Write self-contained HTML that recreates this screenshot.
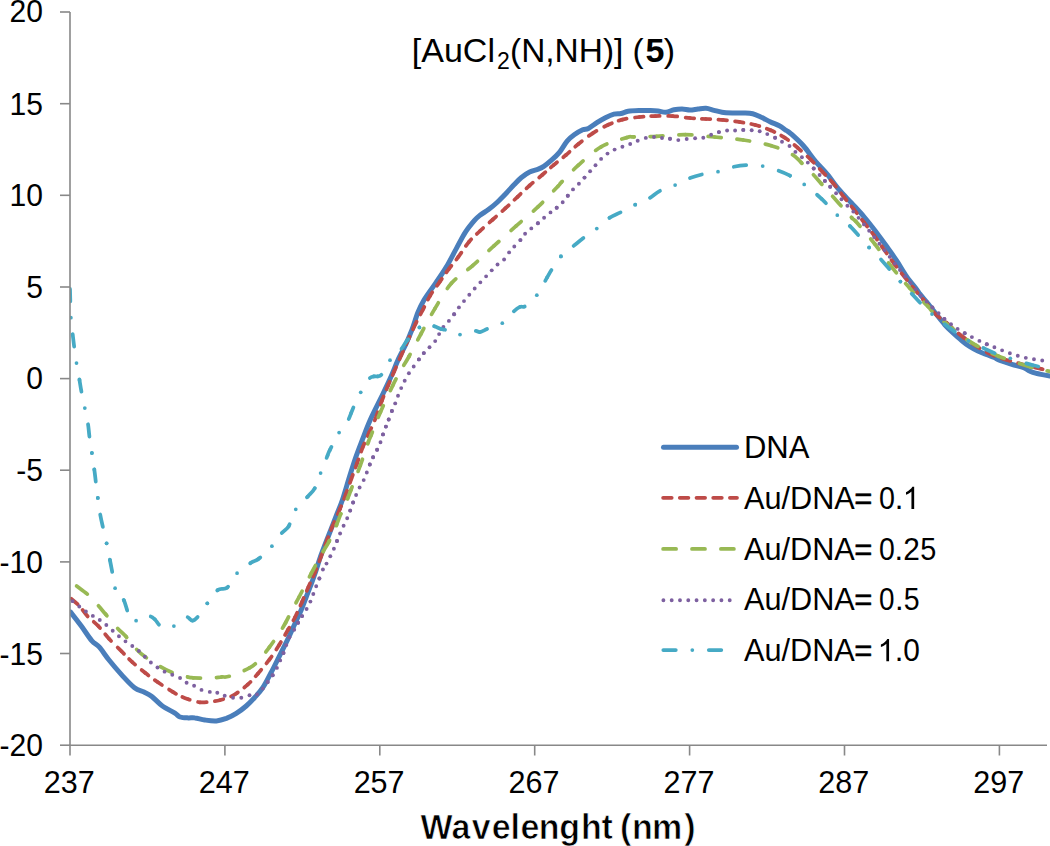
<!DOCTYPE html>
<html><head><meta charset="utf-8"><style>
html,body{margin:0;padding:0;background:#fff;width:1050px;height:846px;overflow:hidden}
svg{display:block;font-family:"Liberation Sans",sans-serif}
</style></head><body>
<svg width="1050" height="846" viewBox="0 0 1050 846">
<defs><clipPath id="pc"><rect x="70" y="0" width="980" height="745"/></clipPath></defs>
<g clip-path="url(#pc)" fill="none" stroke-linejoin="round" stroke-linecap="round"><path d="M70.6 612.1 C72.4 614.4 77.8 621.2 81.3 626.0 C84.8 630.8 88.9 637.4 91.9 640.9 C94.9 644.4 96.6 644.0 99.4 647.2 C102.2 650.4 105.3 655.4 109.0 660.0 C112.7 664.6 117.5 670.3 121.7 674.9 C126.0 679.5 130.8 684.9 134.5 687.7 C138.2 690.6 141.2 690.6 144.0 692.0 C146.8 693.4 148.5 693.9 151.5 696.2 C154.5 698.5 158.2 702.9 162.1 705.7 C166.0 708.5 171.9 711.3 174.9 713.2 C177.9 715.1 177.8 716.2 180.0 717.0 C182.2 717.8 185.8 717.8 188.3 717.9 C190.8 718.0 192.2 717.5 194.9 717.9 C197.7 718.2 201.2 719.5 204.8 720.0 C208.4 720.5 212.8 721.2 216.4 720.9 C220.0 720.6 223.1 719.6 226.4 718.4 C229.7 717.1 233.0 715.5 236.3 713.4 C239.6 711.3 243.2 708.6 246.2 706.0 C249.2 703.4 251.7 700.8 254.5 697.7 C257.3 694.7 260.1 691.9 262.8 687.7 C265.6 683.6 268.2 678.0 271.0 672.8 C273.8 667.6 276.5 661.8 279.3 656.3 C282.1 650.8 284.8 645.5 287.6 639.7 C290.4 633.9 293.6 626.5 295.9 621.5 C298.2 616.5 299.6 613.8 301.3 609.7 C303.0 605.6 304.6 601.2 306.2 597.0 C307.8 592.8 309.5 588.7 311.2 584.2 C312.9 579.7 314.7 574.4 316.2 570.0 C317.7 565.6 318.5 562.2 320.0 558.0 C321.5 553.8 323.2 549.4 325.0 544.7 C326.8 540.0 328.9 534.8 330.8 529.8 C332.7 524.8 334.7 519.9 336.6 514.9 C338.5 509.9 340.2 506.4 342.4 500.0 C344.5 493.6 347.3 483.8 349.5 476.8 C351.7 469.8 353.4 464.1 355.6 457.8 C357.8 451.5 360.3 445.2 362.7 438.9 C365.1 432.6 367.1 427.0 370.2 420.0 C373.3 413.0 378.1 403.8 381.5 396.8 C384.9 389.8 387.7 384.1 390.5 377.8 C393.3 371.5 396.0 364.4 398.5 358.9 C401.0 353.4 403.2 349.9 405.5 345.0 C407.8 340.1 409.9 335.1 412.0 329.7 C414.1 324.3 415.9 317.4 417.9 312.5 C419.9 307.6 421.1 304.9 424.0 300.0 C426.9 295.1 431.8 288.7 435.5 283.3 C439.2 277.9 442.6 273.3 446.1 267.4 C449.6 261.5 453.4 253.8 456.7 247.9 C459.9 242.0 462.6 236.5 465.6 231.9 C468.6 227.3 472.1 223.2 474.5 220.4 C476.9 217.6 477.7 217.0 480.0 215.2 C482.3 213.4 485.7 211.7 488.5 209.6 C491.3 207.5 494.2 205.1 497.0 202.5 C499.8 199.9 502.7 196.9 505.5 194.0 C508.3 191.1 511.4 187.5 514.0 184.8 C516.6 182.1 518.5 179.8 521.1 177.7 C523.7 175.6 526.8 173.4 529.6 172.0 C532.5 170.6 535.8 170.0 538.2 169.1 C540.6 168.2 541.7 167.7 543.8 166.3 C545.9 164.9 548.3 162.9 550.9 160.6 C553.5 158.3 556.7 155.6 559.4 152.3 C562.1 149.1 564.6 144.0 567.1 141.1 C569.6 138.2 571.6 136.7 574.2 134.8 C576.8 132.9 580.3 130.9 582.7 129.8 C585.1 128.7 586.0 129.6 588.4 128.4 C590.8 127.2 594.1 124.5 596.9 122.7 C599.7 120.9 602.6 119.1 605.4 117.7 C608.2 116.3 611.3 114.9 613.9 114.2 C616.5 113.5 618.6 114.0 621.0 113.5 C623.4 113.0 625.0 111.8 628.1 111.3 C631.2 110.8 635.7 110.7 639.4 110.6 C643.1 110.5 647.3 110.4 650.4 110.5 C653.5 110.6 655.4 110.7 658.0 111.0 C660.6 111.3 663.3 112.5 666.0 112.3 C668.7 112.1 671.3 110.2 674.0 109.7 C676.7 109.2 679.3 109.0 682.0 109.0 C684.7 109.0 687.3 110.0 690.0 110.0 C692.7 110.0 695.3 109.3 698.0 109.0 C700.7 108.7 703.3 108.1 706.0 108.3 C708.7 108.5 711.3 109.6 714.0 110.3 C716.7 111.0 718.9 111.8 722.0 112.3 C725.1 112.8 729.2 112.9 732.7 113.0 C736.2 113.1 740.0 112.9 743.3 113.0 C746.6 113.1 749.8 113.0 752.7 113.7 C755.6 114.4 757.8 115.7 760.7 117.0 C763.6 118.3 766.9 120.2 770.0 121.7 C773.1 123.2 776.6 124.3 779.3 125.7 C782.0 127.1 784.0 129.0 786.0 130.3 C788.0 131.7 788.1 131.2 791.0 133.8 C793.9 136.4 799.5 141.4 803.6 146.0 C807.7 150.6 811.5 156.7 815.5 161.4 C819.5 166.1 823.4 169.7 827.3 174.4 C831.2 179.1 835.1 184.9 839.1 189.7 C843.1 194.5 847.3 198.4 851.5 203.0 C855.7 207.6 860.2 212.3 864.2 217.0 C868.2 221.7 871.7 226.2 875.5 231.2 C879.3 236.2 883.4 241.8 886.9 246.8 C890.4 251.8 893.5 256.0 896.8 261.0 C900.1 266.0 903.4 271.9 906.7 276.6 C910.0 281.3 914.5 286.5 916.7 289.4 C918.9 292.3 918.1 291.7 920.0 294.1 C921.9 296.6 925.5 300.7 928.3 304.1 C931.0 307.5 933.8 311.1 936.5 314.5 C939.2 317.9 942.0 321.6 944.8 324.7 C947.6 327.8 950.3 330.4 953.1 333.0 C955.9 335.6 958.6 338.1 961.4 340.3 C964.1 342.6 966.9 344.7 969.6 346.5 C972.4 348.3 975.1 349.7 977.9 351.0 C980.7 352.3 983.5 353.4 986.2 354.5 C989.0 355.6 992.1 356.5 994.4 357.5 C996.7 358.5 997.1 359.4 1000.0 360.5 C1002.9 361.6 1007.8 363.2 1011.8 364.4 C1015.8 365.6 1020.7 366.5 1023.7 367.6 C1026.7 368.7 1027.6 370.1 1029.6 371.0 C1031.6 371.9 1032.1 372.3 1035.5 373.2 C1038.9 374.1 1047.6 375.6 1050.0 376.1" stroke="#4a7ebb" stroke-width="5"/><g stroke="#be4b48" stroke-width="3.75"><path d="M70.6 598.3 C72.0 599.5 76.2 602.7 79.1 605.7" stroke-dasharray="8.21 7.73" stroke-dashoffset="15.07"/><path d="M79.1 605.7 C81.9 608.7 84.5 613.0 87.7 616.4" stroke-dasharray="8.19 7.72" stroke-dashoffset="10.39"/><path d="M87.7 616.4 C90.9 619.8 94.8 622.3 98.3 626.0" stroke-dasharray="8.84 8.32" stroke-dashoffset="8.86"/><path d="M98.3 626.0 C101.8 629.7 105.1 634.5 109.0 638.7" stroke-dasharray="8.57 8.07" stroke-dashoffset="5.83"/><path d="M109.0 638.7 C112.9 643.0 117.8 647.6 121.7 651.5" stroke-dasharray="9.64 9.08" stroke-dashoffset="6.53"/><path d="M121.7 651.5 C125.6 655.4 128.4 658.6 132.3 662.1" stroke-dasharray="7.91 7.45" stroke-dashoffset="4.79"/><path d="M132.3 662.1 C136.2 665.6 140.8 669.4 145.1 672.8" stroke-dasharray="8.86 8.35" stroke-dashoffset="4.96"/><path d="M145.1 672.8 C149.4 676.2 153.3 679.1 157.9 682.3" stroke-dasharray="8.50 8.01" stroke-dashoffset="4.25"/><path d="M157.9 682.3 C162.5 685.5 169.1 689.6 172.8 691.9" stroke-dasharray="8.83 8.31" stroke-dashoffset="3.82"/><path d="M172.8 691.9 C176.5 694.2 177.4 694.8 180.0 696.0" stroke-dasharray="7.45 7.01" stroke-dashoffset="3.72"/><path d="M180.0 696.0 C182.6 697.2 185.0 698.2 188.3 699.3" stroke-dasharray="7.83 7.38" stroke-dashoffset="12.64"/><path d="M188.3 699.3 C191.6 700.3 196.3 701.9 199.9 702.3" stroke-dasharray="8.86 8.34" stroke-dashoffset="7.20"/><path d="M199.9 702.3 C203.5 702.7 206.5 702.1 209.8 701.8" stroke-dasharray="8.79 8.28" stroke-dashoffset="1.98"/><path d="M209.8 701.8 C213.1 701.4 216.4 701.0 219.7 700.2" stroke-dasharray="8.76 8.25" stroke-dashoffset="11.88"/><path d="M219.7 700.2 C223.0 699.4 226.9 698.0 229.7 696.9" stroke-dasharray="8.55 8.05" stroke-dashoffset="4.79"/><path d="M229.7 696.9 C232.5 695.8 233.3 695.6 236.3 693.5" stroke-dasharray="8.46 7.96" stroke-dashoffset="15.16"/><path d="M236.3 693.5 C239.3 691.4 244.3 687.7 247.9 684.4" stroke-dasharray="8.21 7.73" stroke-dashoffset="6.01"/><path d="M247.9 684.4 C251.5 681.1 254.2 677.8 257.8 673.7" stroke-dasharray="8.46 7.97" stroke-dashoffset="4.97"/><path d="M257.8 673.7 C261.4 669.6 265.8 664.4 269.4 659.6" stroke-dasharray="8.53 8.03" stroke-dashoffset="3.15"/><path d="M269.4 659.6 C273.0 654.8 276.2 649.7 279.3 644.7" stroke-dasharray="8.88 8.37" stroke-dashoffset="5.04"/><path d="M279.3 644.7 C282.4 639.7 285.4 634.3 288.0 629.8" stroke-dasharray="8.47 7.97" stroke-dashoffset="5.42"/><path d="M288.0 629.8 C290.6 625.3 292.6 622.1 294.9 617.5" stroke-dasharray="9.05 8.52" stroke-dashoffset="6.66"/><path d="M294.9 617.5 C297.2 612.9 299.8 607.0 302.0 601.9" stroke-dasharray="8.21 7.73" stroke-dashoffset="2.90"/><path d="M302.0 601.9 C304.2 596.8 306.3 591.9 308.4 587.0" stroke-dasharray="8.35 7.87" stroke-dashoffset="4.18"/><path d="M308.4 587.0 C310.5 582.1 312.7 577.9 314.8 572.8" stroke-dasharray="8.02 7.56" stroke-dashoffset="4.01"/><path d="M314.8 572.8 C316.9 567.7 319.1 561.9 321.2 556.3" stroke-dasharray="8.65 8.15" stroke-dashoffset="4.33"/><path d="M321.2 556.3 C323.3 550.6 325.6 543.9 327.5 538.9" stroke-dasharray="8.65 8.15" stroke-dashoffset="5.22"/><path d="M327.5 538.9 C329.4 533.9 330.3 531.5 332.4 526.5" stroke-dasharray="8.65 8.15" stroke-dashoffset="6.93"/><path d="M332.4 526.5 C334.5 521.5 337.7 514.4 339.9 509.1" stroke-dasharray="8.65 8.15" stroke-dashoffset="3.46"/><path d="M339.9 509.1 C342.1 503.8 343.8 499.8 345.7 494.7" stroke-dasharray="8.65 8.15" stroke-dashoffset="5.60"/><path d="M345.7 494.7 C347.6 489.6 349.5 483.9 351.4 478.7" stroke-dasharray="8.75 8.24" stroke-dashoffset="4.37"/><path d="M351.4 478.7 C353.3 473.5 355.1 468.7 357.0 463.5" stroke-dasharray="8.34 7.86" stroke-dashoffset="4.17"/><path d="M357.0 463.5 C358.9 458.3 360.6 452.6 362.7 447.4" stroke-dasharray="8.80 8.28" stroke-dashoffset="4.40"/><path d="M362.7 447.4 C364.8 442.2 367.3 436.7 369.3 432.3" stroke-dasharray="8.49 7.99" stroke-dashoffset="4.24"/><path d="M369.3 432.3 C371.3 427.9 372.4 426.3 374.5 421.0" stroke-dasharray="9.13 8.60" stroke-dashoffset="4.57"/><path d="M374.5 421.0 C376.6 415.7 379.7 406.4 382.0 400.5" stroke-dasharray="8.66 8.16" stroke-dashoffset="16.13"/><path d="M382.0 400.5 C384.3 394.6 386.1 390.3 388.1 385.4" stroke-dasharray="8.39 7.90" stroke-dashoffset="4.19"/><path d="M388.1 385.4 C390.2 380.5 392.1 376.2 394.3 371.2" stroke-dasharray="7.98 7.52" stroke-dashoffset="3.99"/><path d="M394.3 371.2 C396.5 366.1 399.0 360.5 401.4 355.1" stroke-dasharray="9.06 8.53" stroke-dashoffset="4.53"/><path d="M401.4 355.1 C403.8 349.7 406.1 344.2 408.5 339.0" stroke-dasharray="8.20 7.73" stroke-dashoffset="4.10"/><path d="M408.5 339.0 C410.9 333.8 413.2 328.8 415.5 324.0" stroke-dasharray="8.49 7.99" stroke-dashoffset="5.97"/><path d="M415.5 324.0 C417.8 319.2 420.1 315.2 422.5 310.5" stroke-dasharray="8.79 8.28" stroke-dashoffset="6.26"/><path d="M422.5 310.5 C424.9 305.8 427.2 300.5 430.1 295.7" stroke-dasharray="8.46 7.97" stroke-dashoffset="4.23"/><path d="M430.1 295.7 C433.0 290.9 436.8 286.0 439.9 281.6" stroke-dasharray="8.46 7.97" stroke-dashoffset="4.44"/><path d="M439.9 281.6 C443.0 277.2 445.7 273.2 448.8 269.1" stroke-dasharray="8.46 7.97" stroke-dashoffset="5.19"/><path d="M448.8 269.1 C451.9 265.0 455.1 261.3 458.5 256.7" stroke-dasharray="8.46 7.97" stroke-dashoffset="4.11"/><path d="M458.5 256.7 C461.9 252.1 465.5 246.0 469.1 241.7" stroke-dasharray="8.46 7.97" stroke-dashoffset="3.43"/><path d="M469.1 241.7 C472.7 237.4 476.1 234.7 480.0 231.0" stroke-dasharray="8.46 7.97" stroke-dashoffset="5.37"/><path d="M480.0 231.0 C483.9 227.3 488.6 223.3 492.8 219.5" stroke-dasharray="8.86 8.35" stroke-dashoffset="4.43"/><path d="M492.8 219.5 C497.1 215.7 501.4 212.0 505.5 208.2" stroke-dasharray="8.75 8.25" stroke-dashoffset="4.38"/><path d="M505.5 208.2 C509.6 204.4 513.6 200.6 517.6 196.8" stroke-dasharray="8.56 8.06" stroke-dashoffset="4.28"/><path d="M517.6 196.8 C521.6 193.0 525.5 189.2 529.6 185.5" stroke-dasharray="8.49 8.00" stroke-dashoffset="4.24"/><path d="M529.6 185.5 C533.7 181.8 538.4 178.2 542.4 174.8" stroke-dasharray="8.59 8.09" stroke-dashoffset="4.30"/><path d="M542.4 174.8 C546.4 171.4 549.9 168.2 553.8 164.9" stroke-dasharray="7.78 7.32" stroke-dashoffset="3.89"/><path d="M553.8 164.9 C557.7 161.6 561.9 158.5 566.0 155.0" stroke-dasharray="8.51 8.01" stroke-dashoffset="4.25"/><path d="M566.0 155.0 C570.1 151.5 574.0 147.6 578.4 144.0" stroke-dasharray="8.14 7.67" stroke-dashoffset="3.30"/><path d="M578.4 144.0 C582.8 140.4 587.6 136.5 592.6 133.3" stroke-dasharray="9.16 8.63" stroke-dashoffset="4.58"/><path d="M592.6 133.3 C597.6 130.1 603.2 127.1 608.2 124.8" stroke-dasharray="9.16 8.62" stroke-dashoffset="4.58"/><path d="M608.2 124.8 C613.2 122.5 617.2 120.9 622.4 119.6" stroke-dasharray="7.80 7.35" stroke-dashoffset="3.90"/><path d="M622.4 119.6 C627.6 118.3 633.9 117.6 639.4 117.0" stroke-dasharray="8.86 8.35" stroke-dashoffset="4.43"/><path d="M639.4 117.0 C644.9 116.4 649.8 116.2 655.3 116.1" stroke-dasharray="8.20 7.73" stroke-dashoffset="4.10"/><path d="M655.3 116.1 C660.8 115.9 666.9 115.8 672.7 116.1" stroke-dasharray="8.96 8.44" stroke-dashoffset="4.48"/><path d="M672.7 116.1 C678.5 116.4 684.5 117.5 690.0 118.0" stroke-dasharray="8.96 8.44" stroke-dashoffset="4.48"/><path d="M690.0 118.0 C695.5 118.5 700.5 118.7 706.0 119.0" stroke-dasharray="8.26 7.78" stroke-dashoffset="4.13"/><path d="M706.0 119.0 C711.5 119.3 717.2 119.4 722.7 119.9" stroke-dasharray="8.61 8.11" stroke-dashoffset="4.31"/><path d="M722.7 119.9 C728.2 120.4 733.9 121.1 739.3 121.9" stroke-dasharray="8.61 8.11" stroke-dashoffset="4.31"/><path d="M739.3 121.9 C744.7 122.8 750.1 123.6 755.3 125.0" stroke-dasharray="8.40 7.91" stroke-dashoffset="4.20"/><path d="M755.3 125.0 C760.5 126.4 765.8 128.2 770.7 130.3" stroke-dasharray="8.39 7.91" stroke-dashoffset="4.20"/><path d="M770.7 130.3 C775.6 132.4 780.2 134.8 784.7 137.7" stroke-dasharray="8.16 7.69" stroke-dashoffset="4.08"/><path d="M784.7 137.7 C789.2 140.6 793.4 144.2 797.7 147.8" stroke-dasharray="8.48 7.99" stroke-dashoffset="4.24"/><path d="M797.7 147.8 C802.0 151.5 806.6 155.6 810.7 159.6" stroke-dasharray="9.04 8.52" stroke-dashoffset="4.52"/><path d="M810.7 159.6 C814.9 163.6 818.9 168.1 822.6 172.0" stroke-dasharray="8.85 8.34" stroke-dashoffset="4.43"/><path d="M822.6 172.0 C826.4 175.9 829.7 179.1 833.2 183.2" stroke-dasharray="7.94 7.48" stroke-dashoffset="3.97"/><path d="M833.2 183.2 C836.7 187.3 840.4 192.5 843.8 196.8" stroke-dasharray="8.88 8.36" stroke-dashoffset="4.44"/><path d="M843.8 196.8 C847.2 201.1 850.1 204.7 853.5 209.0" stroke-dasharray="8.60 8.10" stroke-dashoffset="4.30"/><path d="M853.5 209.0 C856.9 213.3 860.8 218.3 864.2 222.7" stroke-dasharray="8.60 8.10" stroke-dashoffset="3.19"/><path d="M864.2 222.7 C867.6 227.1 869.1 228.7 874.1 235.5" stroke-dasharray="8.60 8.10" stroke-dashoffset="3.87"/><path d="M874.1 235.5 C879.1 242.3 887.4 254.7 894.0 263.5" stroke-dasharray="8.60 8.10" stroke-dashoffset="3.36"/><path d="M894.0 263.5 C900.6 272.3 909.0 282.6 913.8 288.5" stroke-dasharray="8.60 8.10" stroke-dashoffset="4.31"/><path d="M913.8 288.5 C918.6 294.4 919.2 294.8 923.0 299.2" stroke-dasharray="8.60 8.10" stroke-dashoffset="2.80"/><path d="M923.0 299.2 C926.8 303.6 932.6 311.1 936.5 315.0" stroke-dasharray="8.60 8.10" stroke-dashoffset="0.22"/><path d="M936.5 315.0 C940.4 318.9 942.0 318.9 946.5 322.7" stroke-dasharray="8.60 8.10" stroke-dashoffset="4.30"/><path d="M946.5 322.7 C951.0 326.5 956.5 332.4 963.8 337.6" stroke-dasharray="8.60 8.10" stroke-dashoffset="0.25"/><path d="M963.8 337.6 C971.1 342.8 981.0 349.8 990.4 354.1" stroke-dasharray="8.60 8.10" stroke-dashoffset="6.39"/><path d="M990.4 354.1 C999.8 358.5 1011.7 361.2 1020.2 363.7" stroke-dasharray="8.60 8.10" stroke-dashoffset="4.34"/><path d="M1020.2 363.7 C1028.7 366.2 1036.5 367.7 1041.5 369.0" stroke-dasharray="8.60 8.10" stroke-dashoffset="2.28"/><path d="M1041.5 369.0 C1046.5 370.3 1048.6 370.9 1050.0 371.3" stroke-dasharray="8.60 8.10" stroke-dashoffset="7.54"/></g><g stroke="#98b954" stroke-width="3.75"><path d="M76.2 585.6 C78.2 587.2 84.8 591.8 88.5 595.1" stroke-dasharray="13.18 16.12" stroke-dashoffset="28.60"/><path d="M88.5 595.1 C92.2 598.5 95.4 602.5 98.3 605.7" stroke-dasharray="13.33 16.30" stroke-dashoffset="15.04"/><path d="M98.3 605.7 C101.2 608.9 102.5 610.6 105.7 614.3" stroke-dasharray="13.34 16.31" stroke-dashoffset="29.49"/><path d="M105.7 614.3 C108.9 618.0 114.0 624.4 117.4 628.1" stroke-dasharray="13.34 16.32" stroke-dashoffset="11.20"/><path d="M117.4 628.1 C120.8 631.8 122.8 633.1 126.0 636.6" stroke-dasharray="13.04 15.94" stroke-dashoffset="28.62"/><path d="M126.0 636.6 C129.2 640.1 133.4 646.0 136.6 649.4" stroke-dasharray="12.63 15.45" stroke-dashoffset="11.37"/><path d="M136.6 649.4 C139.8 652.8 141.2 654.0 145.1 656.8" stroke-dasharray="12.94 15.82" stroke-dashoffset="28.67"/><path d="M145.1 656.8 C149.0 659.6 155.4 663.7 160.0 666.4" stroke-dasharray="13.36 16.34" stroke-dashoffset="11.57"/><path d="M160.0 666.4 C164.6 669.1 168.2 671.0 172.8 672.8" stroke-dasharray="13.23 16.18" stroke-dashoffset="29.01"/><path d="M172.8 672.8 C177.4 674.6 184.3 676.2 187.7 677.0" stroke-dasharray="13.10 16.02" stroke-dashoffset="13.79"/><path d="M187.7 677.0 C191.1 677.8 189.5 677.6 193.2 677.8" stroke-dasharray="13.10 16.02" stroke-dashoffset="0.16"/><path d="M193.2 677.8 C196.9 678.0 205.3 678.1 210.0 678.0" stroke-dasharray="13.05 15.96" stroke-dashoffset="5.72"/><path d="M210.0 678.0 C214.7 677.9 218.1 677.3 221.4 677.0" stroke-dasharray="13.05 15.96" stroke-dashoffset="22.52"/><path d="M221.4 677.0 C224.7 676.7 225.0 677.7 229.7 676.2" stroke-dasharray="13.01 15.91" stroke-dashoffset="4.95"/><path d="M229.7 676.2 C234.4 674.7 244.5 670.7 249.5 667.9" stroke-dasharray="13.00 15.90" stroke-dashoffset="13.35"/><path d="M249.5 667.9 C254.5 665.1 256.2 663.0 259.5 659.6" stroke-dasharray="13.02 15.92" stroke-dashoffset="5.95"/><path d="M259.5 659.6 C262.8 656.2 266.1 651.6 269.4 647.2" stroke-dasharray="13.02 15.92" stroke-dashoffset="19.02"/><path d="M269.4 647.2 C272.7 642.8 276.6 637.2 279.3 633.1" stroke-dasharray="13.07 15.99" stroke-dashoffset="5.98"/><path d="M279.3 633.1 C282.0 629.0 283.6 626.4 285.7 622.5" stroke-dasharray="13.07 15.99" stroke-dashoffset="23.21"/><path d="M285.7 622.5 C287.8 618.6 289.8 614.2 292.0 610.0" stroke-dasharray="12.96 15.85" stroke-dashoffset="6.48"/><path d="M292.0 610.0 C294.2 605.8 295.9 603.1 299.1 597.0" stroke-dasharray="12.96 15.85" stroke-dashoffset="20.48"/><path d="M299.1 597.0 C302.3 590.9 307.2 581.1 311.2 573.5" stroke-dasharray="13.02 15.93" stroke-dashoffset="6.51"/><path d="M311.2 573.5 C315.2 565.9 320.3 556.6 323.3 551.3" stroke-dasharray="13.02 15.93" stroke-dashoffset="3.99"/><path d="M323.3 551.3 C326.3 545.9 326.9 545.8 329.1 541.4" stroke-dasharray="13.03 15.94" stroke-dashoffset="0.33"/><path d="M329.1 541.4 C331.3 537.0 334.7 529.3 336.6 524.8" stroke-dasharray="13.04 15.94" stroke-dashoffset="11.81"/><path d="M336.6 524.8 C338.5 520.2 338.9 518.5 340.7 514.1" stroke-dasharray="13.09 16.01" stroke-dashoffset="1.05"/><path d="M340.7 514.1 C342.5 509.7 345.9 502.5 347.6 498.5" stroke-dasharray="13.13 16.06" stroke-dashoffset="12.56"/><path d="M347.6 498.5 C349.3 494.5 348.8 495.5 350.9 490.0" stroke-dasharray="13.15 16.08" stroke-dashoffset="0.42"/><path d="M350.9 490.0 C353.0 484.5 357.4 473.4 360.3 465.4" stroke-dasharray="13.18 16.13" stroke-dashoffset="9.57"/><path d="M360.3 465.4 C363.2 457.4 366.6 446.9 368.4 441.8" stroke-dasharray="13.14 16.07" stroke-dashoffset="6.57"/><path d="M368.4 441.8 C370.2 436.8 369.2 440.1 371.2 435.1" stroke-dasharray="13.00 15.90" stroke-dashoffset="2.28"/><path d="M371.2 435.1 C373.2 430.1 376.9 420.2 380.5 411.9" stroke-dasharray="12.80 15.66" stroke-dashoffset="9.41"/><path d="M380.5 411.9 C384.1 403.6 389.4 392.4 392.8 385.4" stroke-dasharray="13.27 16.24" stroke-dashoffset="6.17"/><path d="M392.8 385.4 C396.2 378.4 398.3 374.8 401.0 370.0" stroke-dasharray="12.78 15.63" stroke-dashoffset="5.65"/><path d="M401.0 370.0 C403.7 365.2 405.7 362.5 409.0 356.5" stroke-dasharray="12.88 15.76" stroke-dashoffset="23.29"/><path d="M409.0 356.5 C412.3 350.5 416.6 342.0 420.9 334.0" stroke-dasharray="13.26 16.21" stroke-dashoffset="10.64"/><path d="M420.9 334.0 C425.2 326.0 429.8 317.1 434.9 308.6" stroke-dasharray="13.05 15.96" stroke-dashoffset="6.52"/><path d="M434.9 308.6 C440.0 300.2 445.1 290.5 451.4 283.3" stroke-dasharray="13.61 16.64" stroke-dashoffset="6.80"/><path d="M451.4 283.3 C457.7 276.1 465.6 271.9 472.7 265.6" stroke-dasharray="12.48 15.26" stroke-dashoffset="6.24"/><path d="M472.7 265.6 C479.8 259.3 486.9 252.3 494.2 245.7" stroke-dasharray="12.97 15.86" stroke-dashoffset="6.48"/><path d="M494.2 245.7 C501.4 239.1 508.9 232.4 516.2 225.9" stroke-dasharray="13.53 16.55" stroke-dashoffset="7.26"/><path d="M516.2 225.9 C523.5 219.4 531.2 213.3 538.2 206.7" stroke-dasharray="13.14 16.07" stroke-dashoffset="6.57"/><path d="M538.2 206.7 C545.2 200.1 554.1 190.3 558.0 186.2" stroke-dasharray="12.82 15.68" stroke-dashoffset="6.41"/><path d="M558.0 186.2 C561.9 182.1 558.0 185.8 561.4 182.3" stroke-dasharray="13.21 16.16" stroke-dashoffset="6.61"/><path d="M561.4 182.3 C564.8 178.8 571.8 171.1 578.4 165.2" stroke-dasharray="13.21 16.16" stroke-dashoffset="11.85"/><path d="M578.4 165.2 C585.0 159.3 593.0 151.4 601.1 146.8" stroke-dasharray="13.17 16.11" stroke-dashoffset="6.59"/><path d="M601.1 146.8 C609.2 142.2 621.2 139.2 626.7 137.6" stroke-dasharray="12.82 15.68" stroke-dashoffset="6.41"/><path d="M626.7 137.6 C632.2 135.9 628.8 137.1 633.8 136.9" stroke-dasharray="12.97 15.86" stroke-dashoffset="5.23"/><path d="M633.8 136.9 C638.8 136.7 648.1 136.7 656.7 136.3" stroke-dasharray="13.00 15.90" stroke-dashoffset="12.50"/><path d="M656.7 136.3 C665.3 135.9 675.6 134.6 685.3 134.7" stroke-dasharray="12.89 15.76" stroke-dashoffset="6.44"/><path d="M685.3 134.7 C695.0 134.8 705.0 136.1 714.7 137.0" stroke-dasharray="13.27 16.23" stroke-dashoffset="6.64"/><path d="M714.7 137.0 C724.4 137.9 733.9 138.6 743.3 140.0" stroke-dasharray="12.94 15.82" stroke-dashoffset="6.47"/><path d="M743.3 140.0 C752.7 141.4 763.2 143.3 771.3 145.7" stroke-dasharray="12.86 15.73" stroke-dashoffset="6.43"/><path d="M771.3 145.7 C779.4 148.1 786.8 151.5 791.8 154.3" stroke-dasharray="13.33 16.31" stroke-dashoffset="6.67"/><path d="M791.8 154.3 C796.8 157.1 797.8 159.2 801.3 162.6" stroke-dasharray="13.19 16.13" stroke-dashoffset="28.64"/><path d="M801.3 162.6 C804.8 165.9 809.8 170.9 813.1 174.4" stroke-dasharray="13.00 15.90" stroke-dashoffset="11.82"/><path d="M813.1 174.4 C816.5 177.9 818.2 180.2 821.4 183.8" stroke-dasharray="13.01 15.91" stroke-dashoffset="28.52"/><path d="M821.4 183.8 C824.5 187.4 828.6 191.9 832.0 195.7" stroke-dasharray="13.02 15.92" stroke-dashoffset="12.15"/><path d="M832.0 195.7 C835.4 199.4 838.1 202.6 841.5 206.3" stroke-dasharray="12.74 15.59" stroke-dashoffset="27.50"/><path d="M841.5 206.3 C844.9 210.0 849.7 215.6 852.1 218.1" stroke-dasharray="12.46 15.24" stroke-dashoffset="13.11"/><path d="M852.1 218.1 C854.5 220.6 851.9 217.0 855.7 221.3" stroke-dasharray="12.46 15.24" stroke-dashoffset="1.27"/><path d="M855.7 221.3 C859.5 225.6 868.6 236.2 874.8 244.0" stroke-dasharray="13.35 16.32" stroke-dashoffset="6.67"/><path d="M874.8 244.0 C880.9 251.8 886.8 260.8 892.6 268.1" stroke-dasharray="13.48 16.49" stroke-dashoffset="6.74"/><path d="M892.6 268.1 C898.4 275.4 903.7 281.5 909.6 287.9" stroke-dasharray="11.74 14.36" stroke-dashoffset="5.87"/><path d="M909.6 287.9 C915.5 294.3 923.9 302.2 928.0 306.4" stroke-dasharray="11.74 14.36" stroke-dashoffset="5.87"/><path d="M928.0 306.4 C932.1 310.6 929.1 308.8 934.1 313.2" stroke-dasharray="13.00 15.90" stroke-dashoffset="6.50"/><path d="M934.1 313.2 C939.1 317.6 951.0 327.6 958.0 333.0" stroke-dasharray="13.00 15.90" stroke-dashoffset="15.67"/><path d="M958.0 333.0 C965.0 338.4 969.4 341.5 976.2 345.4" stroke-dasharray="13.00 15.90" stroke-dashoffset="17.81"/><path d="M976.2 345.4 C983.0 349.3 989.3 352.5 998.6 356.2" stroke-dasharray="13.00 15.90" stroke-dashoffset="10.95"/><path d="M998.6 356.2 C1007.9 359.9 1023.3 364.8 1031.9 367.4" stroke-dasharray="13.00 15.90" stroke-dashoffset="6.94"/><path d="M1031.9 367.4 C1040.5 369.9 1047.0 370.8 1050.0 371.5" stroke-dasharray="13.00 15.90" stroke-dashoffset="13.19"/></g><g stroke="#7d60a0" stroke-width="3.9"><path d="M70.5 599.5 C73.2 601.6 81.2 608.2 86.6 612.0" stroke-dasharray="0.00 8.29" stroke-dashoffset="5.44"/><path d="M86.6 612.0 C91.9 615.8 96.9 617.7 102.6 622.0" stroke-dasharray="0.00 8.29" stroke-dashoffset="0.96"/><path d="M102.6 622.0 C108.3 626.3 114.8 633.0 120.6 637.7" stroke-dasharray="0.00 8.29" stroke-dashoffset="3.26"/><path d="M120.6 637.7 C126.4 642.4 132.5 645.8 137.7 650.0" stroke-dasharray="0.00 8.29" stroke-dashoffset="2.28"/><path d="M137.7 650.0 C142.8 654.2 147.1 659.4 151.5 663.0" stroke-dasharray="0.00 8.29" stroke-dashoffset="6.77"/><path d="M151.5 663.0 C155.9 666.6 159.7 669.1 164.3 671.5" stroke-dasharray="0.00 8.29" stroke-dashoffset="0.87"/><path d="M164.3 671.5 C168.9 673.9 175.4 675.6 179.1 677.5" stroke-dasharray="0.00 8.29" stroke-dashoffset="7.97"/><path d="M179.1 677.5 C182.8 679.4 184.1 681.4 186.6 682.8" stroke-dasharray="0.00 8.29" stroke-dashoffset="7.37"/><path d="M186.6 682.8 C189.1 684.2 191.6 684.6 194.1 685.8" stroke-dasharray="0.00 8.09" stroke-dashoffset="0.00"/><path d="M194.1 685.8 C196.6 687.0 198.9 688.9 201.5 689.9" stroke-dasharray="0.00 8.47" stroke-dashoffset="0.00"/><path d="M201.5 689.9 C204.1 690.9 207.2 691.4 209.8 691.9" stroke-dasharray="0.00 8.55" stroke-dashoffset="0.00"/><path d="M209.8 691.9 C212.4 692.4 214.8 692.1 217.3 692.7" stroke-dasharray="0.00 7.55" stroke-dashoffset="0.00"/><path d="M217.3 692.7 C219.8 693.3 222.1 694.9 224.7 695.7" stroke-dasharray="0.00 7.99" stroke-dashoffset="0.00"/><path d="M224.7 695.7 C227.3 696.5 230.2 697.4 233.0 697.7" stroke-dasharray="0.00 8.55" stroke-dashoffset="0.00"/><path d="M233.0 697.7 C235.8 698.0 238.6 698.1 241.3 697.7" stroke-dasharray="0.00 8.33" stroke-dashoffset="0.00"/><path d="M241.3 697.7 C244.1 697.3 246.9 695.8 249.5 695.2" stroke-dasharray="0.00 8.58" stroke-dashoffset="0.00"/><path d="M249.5 695.2 C252.1 694.7 254.8 695.5 257.0 694.4" stroke-dasharray="0.00 7.60" stroke-dashoffset="0.00"/><path d="M257.0 694.4 C259.2 693.3 261.0 690.7 262.8 688.6" stroke-dasharray="0.00 8.26" stroke-dashoffset="0.00"/><path d="M262.8 688.6 C264.6 686.5 266.1 684.2 267.7 682.0" stroke-dasharray="0.00 8.22" stroke-dashoffset="0.00"/><path d="M267.7 682.0 C269.3 679.8 271.2 677.6 272.7 675.3" stroke-dasharray="0.00 8.36" stroke-dashoffset="0.00"/><path d="M272.7 675.3 C274.2 672.9 275.6 670.4 276.9 667.9" stroke-dasharray="0.00 8.51" stroke-dashoffset="0.00"/><path d="M276.9 667.9 C278.1 665.4 279.1 662.9 280.2 660.4" stroke-dasharray="0.00 8.20" stroke-dashoffset="0.00"/><path d="M280.2 660.4 C281.3 657.9 282.0 656.9 283.5 653.0" stroke-dasharray="0.00 8.10" stroke-dashoffset="0.00"/><path d="M283.5 653.0 C285.0 649.1 287.5 641.2 289.3 637.3" stroke-dasharray="0.00 8.37" stroke-dashoffset="0.00"/><path d="M289.3 637.3 C291.1 633.4 292.7 632.2 294.2 629.8" stroke-dasharray="0.00 8.98" stroke-dashoffset="0.00"/><path d="M294.2 629.8 C295.7 627.4 296.8 625.1 298.1 622.8" stroke-dasharray="0.00 8.01" stroke-dashoffset="0.00"/><path d="M298.1 622.8 C299.4 620.5 300.7 618.4 302.1 616.1" stroke-dasharray="0.00 7.80" stroke-dashoffset="0.00"/><path d="M302.1 616.1 C303.5 613.8 305.2 611.4 306.6 609.0" stroke-dasharray="0.00 8.41" stroke-dashoffset="0.00"/><path d="M306.6 609.0 C308.0 606.6 309.3 604.1 310.4 601.6" stroke-dasharray="0.00 8.32" stroke-dashoffset="0.00"/><path d="M310.4 601.6 C311.5 599.1 312.3 596.5 313.3 594.0" stroke-dasharray="0.00 8.14" stroke-dashoffset="0.00"/><path d="M313.3 594.0 C314.3 591.5 315.2 588.9 316.2 586.3" stroke-dasharray="0.00 8.23" stroke-dashoffset="0.00"/><path d="M316.2 586.3 C317.2 583.7 318.3 581.3 319.4 578.5" stroke-dasharray="0.00 8.43" stroke-dashoffset="0.00"/><path d="M319.4 578.5 C320.5 575.7 321.7 572.0 322.9 569.5" stroke-dasharray="0.00 9.66" stroke-dashoffset="0.00"/><path d="M322.9 569.5 C324.1 567.0 325.3 565.8 326.5 563.6" stroke-dasharray="0.00 6.92" stroke-dashoffset="0.00"/><path d="M326.5 563.6 C327.7 561.4 329.1 558.8 330.3 556.3" stroke-dasharray="0.00 8.23" stroke-dashoffset="0.00"/><path d="M330.3 556.3 C331.5 553.8 332.8 551.2 333.9 548.7" stroke-dasharray="0.00 8.41" stroke-dashoffset="0.00"/><path d="M333.9 548.7 C335.0 546.2 336.0 543.5 337.0 541.0" stroke-dasharray="0.00 8.30" stroke-dashoffset="0.00"/><path d="M337.0 541.0 C338.0 538.5 339.0 536.0 340.1 533.5" stroke-dasharray="0.00 8.12" stroke-dashoffset="0.00"/><path d="M340.1 533.5 C341.2 531.0 342.4 528.3 343.6 525.8" stroke-dasharray="0.00 8.46" stroke-dashoffset="0.00"/><path d="M343.6 525.8 C344.8 523.2 346.1 520.7 347.2 518.2" stroke-dasharray="0.00 8.41" stroke-dashoffset="0.00"/><path d="M347.2 518.2 C348.3 515.7 349.2 513.2 350.2 510.6" stroke-dasharray="0.00 8.17" stroke-dashoffset="0.00"/><path d="M350.2 510.6 C351.2 508.0 352.1 505.1 353.1 502.5" stroke-dasharray="0.00 8.60" stroke-dashoffset="0.00"/><path d="M353.1 502.5 C354.1 499.9 355.0 497.5 356.1 495.0" stroke-dasharray="0.00 8.08" stroke-dashoffset="0.00"/><path d="M356.1 495.0 C357.2 492.5 358.3 490.0 359.6 487.5" stroke-dasharray="0.00 8.28" stroke-dashoffset="0.00"/><path d="M359.6 487.5 C360.9 485.0 362.5 482.6 363.7 480.1" stroke-dasharray="0.00 8.46" stroke-dashoffset="0.00"/><path d="M363.7 480.1 C364.9 477.6 365.8 475.1 366.8 472.5" stroke-dasharray="0.00 8.21" stroke-dashoffset="0.00"/><path d="M366.8 472.5 C367.8 469.9 368.8 467.1 369.8 464.5" stroke-dasharray="0.00 8.54" stroke-dashoffset="0.00"/><path d="M369.8 464.5 C370.9 461.9 371.9 459.6 373.1 457.2" stroke-dasharray="0.00 8.01" stroke-dashoffset="0.00"/><path d="M373.1 457.2 C374.3 454.8 375.9 452.3 377.1 449.8" stroke-dasharray="0.00 8.41" stroke-dashoffset="0.00"/><path d="M377.1 449.8 C378.3 447.3 379.5 444.8 380.5 442.2" stroke-dasharray="0.00 8.33" stroke-dashoffset="0.00"/><path d="M380.5 442.2 C381.5 439.6 382.1 437.0 383.0 434.4" stroke-dasharray="0.00 8.19" stroke-dashoffset="0.00"/><path d="M383.0 434.4 C383.9 431.8 384.9 429.1 385.9 426.6" stroke-dasharray="0.00 8.32" stroke-dashoffset="0.00"/><path d="M385.9 426.6 C386.8 424.1 387.7 422.1 388.7 419.5" stroke-dasharray="0.00 7.63" stroke-dashoffset="0.00"/><path d="M388.7 419.5 C389.7 416.9 390.8 413.7 391.9 411.0" stroke-dasharray="0.00 9.08" stroke-dashoffset="0.00"/><path d="M391.9 411.0 C393.0 408.3 394.2 405.9 395.2 403.4" stroke-dasharray="0.00 8.29" stroke-dashoffset="0.00"/><path d="M395.2 403.4 C396.2 400.9 397.0 398.4 398.0 395.8" stroke-dasharray="0.00 8.10" stroke-dashoffset="0.00"/><path d="M398.0 395.8 C399.0 393.2 400.1 390.6 401.2 388.1" stroke-dasharray="0.00 8.34" stroke-dashoffset="0.00"/><path d="M401.2 388.1 C402.3 385.6 403.4 383.2 404.7 380.7" stroke-dasharray="0.00 8.19" stroke-dashoffset="0.00"/><path d="M404.7 380.7 C406.0 378.2 407.4 375.7 408.9 373.3" stroke-dasharray="0.00 8.51" stroke-dashoffset="0.00"/><path d="M408.9 373.3 C410.4 370.9 412.0 368.8 413.7 366.5" stroke-dasharray="0.00 8.33" stroke-dashoffset="0.00"/><path d="M413.7 366.5 C415.4 364.2 417.2 361.6 418.9 359.4" stroke-dasharray="0.00 8.80" stroke-dashoffset="0.00"/><path d="M418.9 359.4 C420.6 357.2 422.0 355.1 423.8 353.1" stroke-dasharray="0.00 7.98" stroke-dashoffset="0.00"/><path d="M423.8 353.1 C425.6 351.1 427.6 349.2 429.5 347.2" stroke-dasharray="0.00 8.21" stroke-dashoffset="0.00"/><path d="M429.5 347.2 C431.4 345.2 433.6 343.3 435.2 341.1" stroke-dasharray="0.00 8.36" stroke-dashoffset="0.00"/><path d="M435.2 341.1 C436.8 338.9 437.7 336.5 439.1 334.1" stroke-dasharray="0.00 8.02" stroke-dashoffset="0.00"/><path d="M439.1 334.1 C440.5 331.7 441.8 329.1 443.4 326.9" stroke-dasharray="0.00 8.39" stroke-dashoffset="0.00"/><path d="M443.4 326.9 C445.0 324.7 447.1 323.0 448.9 320.9" stroke-dasharray="0.00 8.15" stroke-dashoffset="0.00"/><path d="M448.9 320.9 C450.7 318.8 452.4 316.6 454.1 314.3" stroke-dasharray="0.00 8.40" stroke-dashoffset="0.00"/><path d="M454.1 314.3 C455.8 312.1 457.2 309.6 458.9 307.4" stroke-dasharray="0.00 8.41" stroke-dashoffset="0.00"/><path d="M458.9 307.4 C460.5 305.2 461.4 304.2 464.0 301.1" stroke-dasharray="0.00 8.11" stroke-dashoffset="0.00"/><path d="M464.0 301.1 C466.6 298.0 470.7 293.0 474.5 288.7" stroke-dasharray="0.00 8.28" stroke-dashoffset="0.00"/><path d="M474.5 288.7 C478.3 284.4 483.1 279.5 486.9 275.5" stroke-dasharray="0.00 8.28" stroke-dashoffset="7.97"/><path d="M486.9 275.5 C490.7 271.5 494.6 267.2 497.5 264.5" stroke-dasharray="0.00 8.28" stroke-dashoffset="1.25"/><path d="M497.5 264.5 C500.4 261.8 502.2 261.5 504.1 259.5" stroke-dasharray="0.00 8.28" stroke-dashoffset="8.26"/><path d="M504.1 259.5 C506.0 257.5 507.4 254.6 509.1 252.4" stroke-dasharray="0.00 8.70" stroke-dashoffset="0.00"/><path d="M509.1 252.4 C510.8 250.2 512.4 248.6 514.3 246.5" stroke-dasharray="0.00 7.87" stroke-dashoffset="0.00"/><path d="M514.3 246.5 C516.2 244.4 518.6 242.2 520.4 240.1" stroke-dasharray="0.00 8.84" stroke-dashoffset="0.00"/><path d="M520.4 240.1 C522.2 238.0 523.3 235.6 525.1 233.7" stroke-dasharray="0.00 7.95" stroke-dashoffset="0.00"/><path d="M525.1 233.7 C526.9 231.8 529.2 230.1 531.3 228.4" stroke-dasharray="0.00 8.16" stroke-dashoffset="0.00"/><path d="M531.3 228.4 C533.4 226.7 535.8 225.1 537.9 223.3" stroke-dasharray="0.00 8.34" stroke-dashoffset="0.00"/><path d="M537.9 223.3 C540.0 221.5 542.0 219.5 544.1 217.7" stroke-dasharray="0.00 8.36" stroke-dashoffset="0.00"/><path d="M544.1 217.7 C546.2 215.9 548.4 214.1 550.5 212.4" stroke-dasharray="0.00 8.31" stroke-dashoffset="0.00"/><path d="M550.5 212.4 C552.6 210.8 554.7 209.5 556.7 207.8" stroke-dasharray="0.00 7.72" stroke-dashoffset="0.00"/><path d="M556.7 207.8 C558.7 206.1 560.9 204.3 562.7 202.3" stroke-dasharray="0.00 8.15" stroke-dashoffset="0.00"/><path d="M562.7 202.3 C564.6 200.3 566.1 197.8 567.8 195.7" stroke-dasharray="0.00 8.34" stroke-dashoffset="0.00"/><path d="M567.8 195.7 C569.5 193.5 571.1 191.4 573.0 189.4" stroke-dasharray="0.00 8.17" stroke-dashoffset="0.00"/><path d="M573.0 189.4 C574.9 187.4 577.0 185.7 578.9 183.7" stroke-dasharray="0.00 8.21" stroke-dashoffset="0.00"/><path d="M578.9 183.7 C580.8 181.7 582.6 179.7 584.5 177.6" stroke-dasharray="0.00 8.28" stroke-dashoffset="0.00"/><path d="M584.5 177.6 C586.4 175.5 588.3 173.4 590.1 171.3" stroke-dasharray="0.00 8.43" stroke-dashoffset="0.00"/><path d="M590.1 171.3 C591.9 169.2 593.7 167.3 595.5 165.2" stroke-dasharray="0.00 8.15" stroke-dashoffset="0.00"/><path d="M595.5 165.2 C597.3 163.1 599.1 160.8 601.1 158.9" stroke-dasharray="0.00 8.43" stroke-dashoffset="0.00"/><path d="M601.1 158.9 C603.1 157.0 605.2 155.2 607.5 153.6" stroke-dasharray="0.00 8.32" stroke-dashoffset="0.00"/><path d="M607.5 153.6 C609.8 152.0 612.1 150.7 614.6 149.6" stroke-dasharray="0.00 8.16" stroke-dashoffset="0.00"/><path d="M614.6 149.6 C617.1 148.5 619.8 147.7 622.4 146.8" stroke-dasharray="0.00 8.29" stroke-dashoffset="0.00"/><path d="M622.4 146.8 C625.0 145.9 627.7 145.0 630.2 144.0" stroke-dasharray="0.00 8.29" stroke-dashoffset="0.00"/><path d="M630.2 144.0 C632.8 143.0 635.1 141.7 637.7 140.7" stroke-dasharray="0.00 8.20" stroke-dashoffset="0.00"/><path d="M637.7 140.7 C640.3 139.7 643.1 138.5 645.8 137.9" stroke-dasharray="0.00 8.58" stroke-dashoffset="0.00"/><path d="M645.8 137.9 C648.5 137.3 651.3 137.0 654.0 137.0" stroke-dasharray="0.00 8.27" stroke-dashoffset="0.00"/><path d="M654.0 137.0 C656.7 137.0 659.3 137.7 662.0 138.0" stroke-dasharray="0.00 8.07" stroke-dashoffset="0.00"/><path d="M662.0 138.0 C664.7 138.3 667.3 138.3 670.0 138.7" stroke-dasharray="0.00 8.03" stroke-dashoffset="0.00"/><path d="M670.0 138.7 C672.7 139.0 675.5 140.0 678.3 140.1" stroke-dasharray="0.00 8.43" stroke-dashoffset="0.00"/><path d="M678.3 140.1 C681.1 140.2 683.9 139.3 686.7 139.0" stroke-dasharray="0.00 8.48" stroke-dashoffset="0.00"/><path d="M686.7 139.0 C689.5 138.7 692.3 138.5 695.1 138.3" stroke-dasharray="0.00 8.43" stroke-dashoffset="0.00"/><path d="M695.1 138.3 C697.9 138.1 700.6 138.3 703.3 137.7" stroke-dasharray="0.00 8.23" stroke-dashoffset="0.00"/><path d="M703.3 137.7 C706.0 137.1 708.5 135.6 711.1 134.7" stroke-dasharray="0.00 8.37" stroke-dashoffset="0.00"/><path d="M711.1 134.7 C713.7 133.8 716.2 132.8 718.9 132.1" stroke-dasharray="0.00 8.22" stroke-dashoffset="0.00"/><path d="M718.9 132.1 C721.6 131.4 724.4 130.8 727.1 130.5" stroke-dasharray="0.00 8.36" stroke-dashoffset="0.00"/><path d="M727.1 130.5 C729.8 130.2 732.4 130.6 735.1 130.5" stroke-dasharray="0.00 8.01" stroke-dashoffset="0.00"/><path d="M735.1 130.5 C737.8 130.4 740.5 130.0 743.3 129.9" stroke-dasharray="0.00 8.22" stroke-dashoffset="0.00"/><path d="M743.3 129.9 C746.1 129.8 749.0 130.0 751.7 130.2" stroke-dasharray="0.00 8.41" stroke-dashoffset="0.00"/><path d="M751.7 130.2 C754.4 130.4 757.1 130.7 759.7 131.3" stroke-dasharray="0.00 8.08" stroke-dashoffset="0.00"/><path d="M759.7 131.3 C762.3 132.0 764.7 133.0 767.3 134.1" stroke-dasharray="0.00 8.11" stroke-dashoffset="0.00"/><path d="M767.3 134.1 C769.9 135.2 772.6 136.4 775.1 137.7" stroke-dasharray="0.00 8.59" stroke-dashoffset="0.00"/><path d="M775.1 137.7 C777.6 139.0 779.6 140.3 782.0 141.7" stroke-dasharray="0.00 7.98" stroke-dashoffset="0.00"/><path d="M782.0 141.7 C784.4 143.1 787.3 144.3 789.5 146.0" stroke-dasharray="0.00 8.65" stroke-dashoffset="0.00"/><path d="M789.5 146.0 C791.7 147.7 793.3 150.0 795.4 151.9" stroke-dasharray="0.00 8.35" stroke-dashoffset="0.00"/><path d="M795.4 151.9 C797.5 153.8 799.8 155.4 801.9 157.2" stroke-dasharray="0.00 8.39" stroke-dashoffset="0.00"/><path d="M801.9 157.2 C804.0 159.0 805.8 160.7 807.8 162.6" stroke-dasharray="0.00 8.00" stroke-dashoffset="0.00"/><path d="M807.8 162.6 C809.8 164.5 811.7 166.4 813.7 168.5" stroke-dasharray="0.00 8.34" stroke-dashoffset="0.00"/><path d="M813.7 168.5 C815.7 170.6 817.7 172.9 819.6 175.0" stroke-dasharray="0.00 8.78" stroke-dashoffset="0.00"/><path d="M819.6 175.0 C821.5 177.1 823.1 178.9 824.9 180.9" stroke-dasharray="0.00 7.93" stroke-dashoffset="0.00"/><path d="M824.9 180.9 C826.7 182.9 828.3 184.7 830.2 186.8" stroke-dasharray="0.00 7.93" stroke-dashoffset="0.00"/><path d="M830.2 186.8 C832.1 188.9 834.2 191.2 836.1 193.3" stroke-dasharray="0.00 8.78" stroke-dashoffset="0.00"/><path d="M836.1 193.3 C838.0 195.4 839.6 197.1 841.5 199.2" stroke-dasharray="0.00 8.00" stroke-dashoffset="0.00"/><path d="M841.5 199.2 C843.4 201.3 845.4 203.6 847.4 205.7" stroke-dasharray="0.00 8.78" stroke-dashoffset="0.00"/><path d="M847.4 205.7 C849.4 207.8 849.8 207.6 853.3 211.6" stroke-dasharray="0.00 8.35" stroke-dashoffset="0.00"/><path d="M853.3 211.6 C856.8 215.6 863.3 223.5 868.4 229.8" stroke-dasharray="0.00 8.30" stroke-dashoffset="0.00"/><path d="M868.4 229.8 C873.5 236.1 878.8 243.0 884.0 249.6" stroke-dasharray="0.00 8.30" stroke-dashoffset="7.06"/><path d="M884.0 249.6 C889.2 256.2 895.1 263.8 899.6 269.5" stroke-dasharray="0.00 8.30" stroke-dashoffset="7.38"/><path d="M899.6 269.5 C904.1 275.2 907.5 279.3 911.0 283.7" stroke-dasharray="0.00 8.30" stroke-dashoffset="7.78"/><path d="M911.0 283.7 C914.5 288.1 918.2 292.8 920.8 295.8" stroke-dasharray="0.00 8.30" stroke-dashoffset="1.11"/><path d="M920.8 295.8 C923.4 298.8 924.7 299.7 926.6 301.6" stroke-dasharray="0.00 8.30" stroke-dashoffset="0.09"/><path d="M926.6 301.6 C928.5 303.5 930.4 305.5 932.4 307.4" stroke-dasharray="0.00 8.20" stroke-dashoffset="0.00"/><path d="M932.4 307.4 C934.4 309.3 936.6 311.3 938.6 313.2" stroke-dasharray="0.00 8.49" stroke-dashoffset="0.00"/><path d="M938.6 313.2 C940.6 315.1 942.3 317.0 944.4 318.9" stroke-dasharray="0.00 8.13" stroke-dashoffset="0.00"/><path d="M944.4 318.9 C946.5 320.8 948.8 322.6 951.0 324.3" stroke-dasharray="0.00 8.53" stroke-dashoffset="0.00"/><path d="M951.0 324.3 C953.2 326.0 955.3 327.4 957.6 328.9" stroke-dasharray="0.00 8.05" stroke-dashoffset="0.00"/><path d="M957.6 328.9 C959.9 330.4 962.3 331.8 964.7 333.2" stroke-dasharray="0.00 8.30" stroke-dashoffset="0.00"/><path d="M964.7 333.2 C967.1 334.6 969.5 335.8 971.9 337.1" stroke-dasharray="0.00 8.19" stroke-dashoffset="0.00"/><path d="M971.9 337.1 C974.3 338.4 976.9 339.7 979.4 340.9" stroke-dasharray="0.00 8.41" stroke-dashoffset="0.00"/><path d="M979.4 340.9 C981.9 342.1 984.3 343.1 986.8 344.2" stroke-dasharray="0.00 8.10" stroke-dashoffset="0.00"/><path d="M986.8 344.2 C989.3 345.3 990.6 345.8 994.4 347.3" stroke-dasharray="0.00 8.21" stroke-dashoffset="0.00"/><path d="M994.4 347.3 C998.2 348.8 1004.3 351.3 1009.6 353.1" stroke-dasharray="0.00 8.29" stroke-dashoffset="0.00"/><path d="M1009.6 353.1 C1014.9 354.9 1020.6 356.7 1026.1 357.9" stroke-dasharray="0.00 8.29" stroke-dashoffset="7.98"/><path d="M1026.1 357.9 C1031.6 359.1 1038.6 359.8 1042.6 360.5" stroke-dasharray="0.00 8.29" stroke-dashoffset="0.30"/><path d="M1042.6 360.5 C1046.6 361.2 1048.8 361.8 1050.0 362.0" stroke-dasharray="0.00 8.29" stroke-dashoffset="0.43"/></g><g stroke="#46aac5" stroke-width="3.75"><path d="M70.0 289.0 C70.1 291.5 70.2 299.2 70.4 304.0" stroke-dasharray="0.00 16.50 12.50 16.50" stroke-dashoffset="16.73"/><path d="M70.4 304.0 C70.6 308.8 70.5 313.1 70.9 318.0" stroke-dasharray="0.00 16.50 12.50 16.50" stroke-dashoffset="31.74"/><path d="M70.9 318.0 C71.3 322.9 72.0 328.6 72.6 333.5" stroke-dasharray="0.00 16.54 12.53 16.54" stroke-dashoffset="0.25"/><path d="M72.6 333.5 C73.2 338.4 73.6 342.7 74.3 347.6" stroke-dasharray="0.00 16.54 12.53 16.54" stroke-dashoffset="15.84"/><path d="M74.3 347.6 C75.0 352.5 75.6 357.6 76.5 363.0" stroke-dasharray="0.00 16.54 12.53 16.54" stroke-dashoffset="30.04"/><path d="M76.5 363.0 C77.4 368.4 78.7 375.2 79.5 380.0" stroke-dasharray="0.00 16.60 12.57 16.60" stroke-dashoffset="0.00"/><path d="M79.5 380.0 C80.3 384.8 80.6 387.3 81.5 392.0" stroke-dasharray="0.00 16.60 12.57 16.60" stroke-dashoffset="17.26"/><path d="M81.5 392.0 C82.4 396.7 83.7 402.7 84.8 408.0" stroke-dasharray="0.00 16.60 12.57 16.60" stroke-dashoffset="29.43"/><path d="M84.8 408.0 C85.9 413.3 87.2 419.2 88.0 424.0" stroke-dasharray="0.00 16.53 12.52 16.53" stroke-dashoffset="0.00"/><path d="M88.0 424.0 C88.8 428.8 88.8 432.2 89.5 437.0" stroke-dasharray="0.00 16.53 12.52 16.53" stroke-dashoffset="16.32"/><path d="M89.5 437.0 C90.2 441.8 91.1 447.6 91.9 453.0" stroke-dasharray="0.00 16.53 12.52 16.53" stroke-dashoffset="29.41"/><path d="M91.9 453.0 C92.7 458.4 93.6 464.6 94.3 469.5" stroke-dasharray="0.00 16.42 12.44 16.42" stroke-dashoffset="0.00"/><path d="M94.3 469.5 C95.0 474.4 95.3 477.9 95.9 482.6" stroke-dasharray="0.00 16.42 12.44 16.42" stroke-dashoffset="16.67"/><path d="M95.9 482.6 C96.5 487.3 97.1 492.6 97.8 497.9" stroke-dasharray="0.00 16.42 12.44 16.42" stroke-dashoffset="29.87"/><path d="M97.8 497.9 C98.5 503.2 99.3 509.6 100.2 514.5" stroke-dasharray="0.00 16.78 12.71 16.78" stroke-dashoffset="0.00"/><path d="M100.2 514.5 C101.1 519.4 101.9 522.7 103.0 527.5" stroke-dasharray="0.00 16.78 12.71 16.78" stroke-dashoffset="16.77"/><path d="M103.0 527.5 C104.1 532.3 105.4 537.9 106.6 543.3" stroke-dasharray="0.00 16.78 12.71 16.78" stroke-dashoffset="30.07"/><path d="M106.6 543.3 C107.8 548.7 109.0 555.2 109.9 560.0" stroke-dasharray="0.00 16.58 12.56 16.58" stroke-dashoffset="0.00"/><path d="M109.9 560.0 C110.9 564.8 111.4 567.6 112.3 572.3" stroke-dasharray="0.00 16.58 12.56 16.58" stroke-dashoffset="17.02"/><path d="M112.3 572.3 C113.2 577.0 113.9 584.5 115.1 588.2" stroke-dasharray="0.00 16.58 12.56 16.58" stroke-dashoffset="29.56"/><path d="M115.1 588.2 C116.3 591.9 118.0 592.4 119.5 594.5" stroke-dasharray="0.00 14.70 11.13 14.70" stroke-dashoffset="0.00"/><path d="M119.5 594.5 C121.0 596.6 122.6 597.6 124.1 600.7" stroke-dasharray="0.00 14.70 11.13 14.70" stroke-dashoffset="7.77"/><path d="M124.1 600.7 C125.5 603.9 127.0 610.4 128.2 613.4" stroke-dasharray="0.00 14.70 11.13 14.70" stroke-dashoffset="15.53"/><path d="M128.2 613.4 C129.4 616.4 130.2 617.8 131.5 619.0" stroke-dasharray="0.00 14.70 11.13 14.70" stroke-dashoffset="28.88"/><path d="M131.5 619.0 C132.8 620.2 134.2 621.0 136.1 620.7" stroke-dasharray="0.00 14.70 11.13 14.70" stroke-dashoffset="35.44"/><path d="M136.1 620.7 C138.0 620.5 140.7 618.2 143.0 617.5" stroke-dasharray="0.00 15.52 11.76 15.52" stroke-dashoffset="0.00"/><path d="M143.0 617.5 C145.3 616.8 148.1 616.0 150.1 616.3" stroke-dasharray="0.00 15.52 11.76 15.52" stroke-dashoffset="7.64"/><path d="M150.1 616.3 C152.1 616.6 153.4 618.0 155.0 619.5" stroke-dasharray="0.00 15.52 11.76 15.52" stroke-dashoffset="14.90"/><path d="M155.0 619.5 C156.6 621.0 157.8 624.0 159.6 625.2" stroke-dasharray="0.00 15.52 11.76 15.52" stroke-dashoffset="20.85"/><path d="M159.6 625.2 C161.4 626.4 163.6 626.4 166.0 626.5" stroke-dasharray="0.00 15.52 11.76 15.52" stroke-dashoffset="28.21"/><path d="M166.0 626.5 C168.4 626.6 171.4 626.9 173.9 626.0" stroke-dasharray="0.00 15.52 11.76 15.52" stroke-dashoffset="34.82"/><path d="M173.9 626.0 C176.4 625.1 178.8 622.5 181.0 621.0" stroke-dasharray="0.00 16.73 12.68 16.73" stroke-dashoffset="0.00"/><path d="M181.0 621.0 C183.2 619.5 185.1 617.0 187.0 617.0" stroke-dasharray="0.00 16.73 12.68 16.73" stroke-dashoffset="8.72"/><path d="M187.0 617.0 C188.9 617.0 190.6 620.8 192.4 620.7" stroke-dasharray="0.00 16.73 12.68 16.73" stroke-dashoffset="16.03"/><path d="M192.4 620.7 C194.2 620.6 195.5 619.5 198.0 616.6" stroke-dasharray="0.00 16.73 12.68 16.73" stroke-dashoffset="22.76"/><path d="M198.0 616.6 C200.5 613.7 204.0 607.7 207.3 603.3" stroke-dasharray="0.00 16.73 12.68 16.73" stroke-dashoffset="29.91"/><path d="M207.3 603.3 C210.6 598.9 214.5 592.6 217.8 590.0" stroke-dasharray="0.00 16.17 12.25 16.17" stroke-dashoffset="0.00"/><path d="M217.8 590.0 C221.1 587.4 224.0 590.4 227.2 587.6" stroke-dasharray="0.00 16.17 12.25 16.17" stroke-dashoffset="16.99"/><path d="M227.2 587.6 C230.3 584.9 232.8 577.6 236.7 573.5" stroke-dasharray="0.00 16.17 12.25 16.17" stroke-dashoffset="26.97"/><path d="M236.7 573.5 C240.6 569.4 247.3 565.2 250.9 562.8" stroke-dasharray="0.00 16.17 12.25 16.17" stroke-dashoffset="44.03"/><path d="M250.9 562.8 C254.5 560.4 254.8 561.6 258.0 559.3" stroke-dasharray="0.00 16.17 12.25 16.17" stroke-dashoffset="17.27"/><path d="M258.0 559.3 C261.1 556.9 265.9 553.0 269.8 548.7" stroke-dasharray="0.00 16.17 12.25 16.17" stroke-dashoffset="25.23"/><path d="M269.8 548.7 C273.7 544.4 278.5 537.0 281.6 533.3" stroke-dasharray="0.00 16.17 12.25 16.17" stroke-dashoffset="41.11"/><path d="M281.6 533.3 C284.8 529.5 286.5 529.9 288.7 526.2" stroke-dasharray="0.00 16.17 12.25 16.17" stroke-dashoffset="15.94"/><path d="M288.7 526.2 C290.9 522.5 291.5 515.8 294.6 510.9" stroke-dasharray="0.00 16.17 12.25 16.17" stroke-dashoffset="26.05"/><path d="M294.6 510.9 C297.8 506.0 304.2 500.4 307.6 496.7" stroke-dasharray="0.00 16.17 12.25 16.17" stroke-dashoffset="42.50"/><path d="M307.6 496.7 C311.0 492.9 312.5 492.3 314.7 488.4" stroke-dasharray="0.00 16.17 12.25 16.17" stroke-dashoffset="17.20"/><path d="M314.7 488.4 C316.9 484.5 318.5 478.6 320.6 473.1" stroke-dasharray="0.00 16.17 12.25 16.17" stroke-dashoffset="28.17"/><path d="M320.6 473.1 C322.8 467.6 326.1 459.2 327.6 455.4" stroke-dasharray="0.00 16.21 12.28 16.21" stroke-dashoffset="0.00"/><path d="M327.6 455.4 C329.1 451.6 327.8 454.1 329.7 450.3" stroke-dasharray="0.00 16.21 12.28 16.21" stroke-dashoffset="19.03"/><path d="M329.7 450.3 C331.6 446.5 336.6 436.5 339.1 432.5" stroke-dasharray="0.00 16.21 12.28 16.21" stroke-dashoffset="24.56"/><path d="M339.1 432.5 C341.6 428.5 342.9 428.7 344.5 426.5" stroke-dasharray="0.00 16.70 12.65 16.70" stroke-dashoffset="0.00"/><path d="M344.5 426.5 C346.1 424.3 347.4 421.7 348.5 419.5" stroke-dasharray="0.00 16.70 12.65 16.70" stroke-dashoffset="8.11"/><path d="M348.5 419.5 C349.6 417.3 350.2 415.3 351.1 413.1" stroke-dasharray="0.00 16.70 12.65 16.70" stroke-dashoffset="16.19"/><path d="M351.1 413.1 C352.0 410.9 352.8 408.9 353.8 406.5" stroke-dasharray="0.00 16.70 12.65 16.70" stroke-dashoffset="23.10"/><path d="M353.8 406.5 C354.8 404.1 355.9 401.4 357.0 399.0" stroke-dasharray="0.00 16.70 12.65 16.70" stroke-dashoffset="30.23"/><path d="M357.0 399.0 C358.1 396.6 358.7 395.7 360.7 392.3" stroke-dasharray="0.00 16.70 12.65 16.70" stroke-dashoffset="38.38"/><path d="M360.7 392.3 C362.7 388.9 367.0 381.5 369.2 378.8" stroke-dasharray="0.00 16.84 12.76 16.84" stroke-dashoffset="0.00"/><path d="M369.2 378.8 C371.4 376.1 372.5 376.8 373.9 376.4" stroke-dasharray="0.00 16.84 12.76 16.84" stroke-dashoffset="15.96"/><path d="M373.9 376.4 C375.3 376.0 376.3 376.8 377.7 376.4" stroke-dasharray="0.00 16.84 12.76 16.84" stroke-dashoffset="21.44"/><path d="M377.7 376.4 C379.1 376.0 379.9 376.8 382.0 374.1" stroke-dasharray="0.00 16.84 12.76 16.84" stroke-dashoffset="25.28"/><path d="M382.0 374.1 C384.1 371.4 386.9 364.3 390.0 360.2" stroke-dasharray="0.00 16.84 12.76 16.84" stroke-dashoffset="30.39"/><path d="M390.0 360.2 C393.1 356.1 398.0 352.9 400.9 349.5" stroke-dasharray="0.00 16.04 12.15 16.04" stroke-dashoffset="0.00"/><path d="M400.9 349.5 C403.8 346.1 404.4 343.7 407.5 340.0" stroke-dasharray="0.00 16.04 12.15 16.04" stroke-dashoffset="15.30"/><path d="M407.5 340.0 C410.6 336.3 416.1 329.9 419.4 327.4" stroke-dasharray="0.00 16.04 12.15 16.04" stroke-dashoffset="26.88"/><path d="M419.4 327.4 C422.6 324.9 424.5 325.2 427.0 325.0" stroke-dasharray="0.00 15.51 11.75 15.51" stroke-dashoffset="0.00"/><path d="M427.0 325.0 C429.5 324.8 432.0 325.6 434.3 326.3" stroke-dasharray="0.00 15.51 11.75 15.51" stroke-dashoffset="8.15"/><path d="M434.3 326.3 C436.6 327.0 438.8 328.3 441.0 329.0" stroke-dasharray="0.00 15.51 11.75 15.51" stroke-dashoffset="15.61"/><path d="M441.0 329.0 C443.2 329.7 444.2 329.4 447.4 330.3" stroke-dasharray="0.00 15.51 11.75 15.51" stroke-dashoffset="22.84"/><path d="M447.4 330.3 C450.6 331.2 455.5 334.5 460.0 334.6" stroke-dasharray="0.00 15.51 11.75 15.51" stroke-dashoffset="29.38"/><path d="M460.0 334.6 C464.5 334.7 471.0 331.3 474.3 330.9" stroke-dasharray="0.00 16.25 12.31 16.25" stroke-dashoffset="0.00"/><path d="M474.3 330.9 C477.6 330.5 477.7 332.4 480.0 332.0" stroke-dasharray="0.00 16.25 12.31 16.25" stroke-dashoffset="14.83"/><path d="M480.0 332.0 C482.3 331.6 484.3 330.1 488.0 328.6" stroke-dasharray="0.00 16.25 12.31 16.25" stroke-dashoffset="20.76"/><path d="M488.0 328.6 C491.7 327.1 498.0 326.1 502.3 323.2" stroke-dasharray="0.00 16.25 12.31 16.25" stroke-dashoffset="29.48"/><path d="M502.3 323.2 C506.6 320.3 510.8 314.1 513.7 311.4" stroke-dasharray="0.00 16.58 12.56 16.58" stroke-dashoffset="0.00"/><path d="M513.7 311.4 C516.7 308.7 518.0 307.8 520.0 306.9" stroke-dasharray="0.00 16.58 12.56 16.58" stroke-dashoffset="16.45"/><path d="M520.0 306.9 C522.0 306.0 522.9 308.0 525.8 305.9" stroke-dasharray="0.00 16.58 12.56 16.58" stroke-dashoffset="24.23"/><path d="M525.8 305.9 C528.7 303.8 534.1 298.8 537.6 294.1" stroke-dasharray="0.00 16.58 12.56 16.58" stroke-dashoffset="30.33"/><path d="M537.6 294.1 C541.1 289.4 544.7 281.6 547.0 277.6" stroke-dasharray="0.00 16.58 12.56 16.58" stroke-dashoffset="1.33"/><path d="M547.0 277.6 C549.3 273.6 549.2 273.5 551.5 270.0" stroke-dasharray="0.00 16.58 12.56 16.58" stroke-dashoffset="20.34"/><path d="M551.5 270.0 C553.8 266.5 557.2 260.4 560.9 256.4" stroke-dasharray="0.00 16.58 12.56 16.58" stroke-dashoffset="29.18"/><path d="M560.9 256.4 C564.6 252.4 569.5 249.2 573.6 245.9" stroke-dasharray="0.00 16.50 12.50 16.50" stroke-dashoffset="0.00"/><path d="M573.6 245.9 C577.7 242.6 581.5 239.4 585.4 236.5" stroke-dasharray="0.00 16.50 12.50 16.50" stroke-dashoffset="16.50"/><path d="M585.4 236.5 C589.3 233.6 593.2 231.3 597.2 228.2" stroke-dasharray="0.00 16.50 12.50 16.50" stroke-dashoffset="31.59"/><path d="M597.2 228.2 C601.2 225.1 605.6 220.4 609.6 217.7" stroke-dasharray="0.00 16.50 12.50 16.50" stroke-dashoffset="0.51"/><path d="M609.6 217.7 C613.6 215.0 616.7 214.3 621.0 212.1" stroke-dasharray="0.00 16.50 12.50 16.50" stroke-dashoffset="16.77"/><path d="M621.0 212.1 C625.3 209.9 630.6 206.9 635.2 204.7" stroke-dasharray="0.00 16.50 12.50 16.50" stroke-dashoffset="29.49"/><path d="M635.2 204.7 C639.8 202.4 644.6 200.9 648.7 198.6" stroke-dasharray="0.00 16.23 12.30 16.23" stroke-dashoffset="0.00"/><path d="M648.7 198.6 C652.8 196.3 655.6 193.1 660.0 190.8" stroke-dasharray="0.00 16.23 12.30 16.23" stroke-dashoffset="14.82"/><path d="M660.0 190.8 C664.4 188.5 670.2 187.1 675.1 185.0" stroke-dasharray="0.00 16.23 12.30 16.23" stroke-dashoffset="28.57"/><path d="M675.1 185.0 C680.0 182.9 684.7 180.1 689.3 178.3" stroke-dasharray="0.00 16.40 12.43 16.40" stroke-dashoffset="0.00"/><path d="M689.3 178.3 C693.9 176.5 697.9 175.4 702.7 174.3" stroke-dasharray="0.00 16.40 12.43 16.40" stroke-dashoffset="15.71"/><path d="M702.7 174.3 C707.5 173.2 713.0 172.9 718.0 171.7" stroke-dasharray="0.00 16.40 12.43 16.40" stroke-dashoffset="29.70"/><path d="M718.0 171.7 C723.0 170.5 727.8 168.1 732.7 167.0" stroke-dasharray="0.00 16.56 12.55 16.56" stroke-dashoffset="0.00"/><path d="M732.7 167.0 C737.6 165.9 742.3 165.2 747.3 165.0" stroke-dasharray="0.00 16.56 12.55 16.56" stroke-dashoffset="15.44"/><path d="M747.3 165.0 C752.3 164.8 757.7 165.2 762.7 166.1" stroke-dasharray="0.00 16.56 12.55 16.56" stroke-dashoffset="30.20"/><path d="M762.7 166.1 C767.7 167.0 772.8 168.7 777.3 170.3" stroke-dasharray="0.00 16.57 12.55 16.57" stroke-dashoffset="0.00"/><path d="M777.3 170.3 C781.8 171.9 785.5 173.3 790.0 175.7" stroke-dasharray="0.00 16.57 12.55 16.57" stroke-dashoffset="15.21"/><path d="M790.0 175.7 C794.5 178.0 798.9 180.5 804.2 184.4" stroke-dasharray="0.00 16.57 12.55 16.57" stroke-dashoffset="29.02"/><path d="M804.2 184.4 C809.5 188.3 816.1 193.8 821.6 198.9" stroke-dasharray="0.00 16.43 12.44 16.43" stroke-dashoffset="0.00"/><path d="M821.6 198.9 C827.1 204.0 832.6 210.6 837.3 215.2" stroke-dasharray="0.00 16.43 12.44 16.43" stroke-dashoffset="22.66"/><path d="M837.3 215.2 C842.0 219.8 846.5 222.8 850.0 226.2" stroke-dasharray="0.00 16.47 12.48 16.47" stroke-dashoffset="0.00"/><path d="M850.0 226.2 C853.5 229.6 855.3 231.9 858.5 235.5" stroke-dasharray="0.00 16.47 12.48 16.47" stroke-dashoffset="16.81"/><path d="M858.5 235.5 C861.7 239.1 865.4 243.6 869.1 247.5" stroke-dasharray="0.00 16.47 12.48 16.47" stroke-dashoffset="29.41"/><path d="M869.1 247.5 C872.8 251.4 877.1 255.2 880.5 258.9" stroke-dasharray="0.00 16.79 12.72 16.79" stroke-dashoffset="0.00"/><path d="M880.5 258.9 C883.9 262.6 886.4 265.7 889.7 269.5" stroke-dasharray="0.00 16.79 12.72 16.79" stroke-dashoffset="16.12"/><path d="M889.7 269.5 C893.0 273.3 896.9 277.7 900.4 281.6" stroke-dasharray="0.00 16.79 12.72 16.79" stroke-dashoffset="30.16"/><path d="M900.4 281.6 C903.9 285.5 907.7 289.4 911.0 292.9" stroke-dasharray="0.00 16.42 12.44 16.42" stroke-dashoffset="0.00"/><path d="M911.0 292.9 C914.3 296.4 916.7 299.3 920.2 302.8" stroke-dasharray="0.00 16.42 12.44 16.42" stroke-dashoffset="15.49"/><path d="M920.2 302.8 C923.7 306.3 928.2 310.6 932.0 314.0" stroke-dasharray="0.00 16.42 12.44 16.42" stroke-dashoffset="29.01"/><path d="M932.0 314.0 C935.8 317.4 939.1 319.9 943.2 323.1" stroke-dasharray="0.00 16.43 12.45 16.43" stroke-dashoffset="0.00"/><path d="M943.2 323.1 C947.3 326.3 952.2 330.0 956.4 333.0" stroke-dasharray="0.00 16.43 12.45 16.43" stroke-dashoffset="14.43"/><path d="M956.4 333.0 C960.6 336.0 964.0 338.4 968.4 340.9" stroke-dasharray="0.00 16.43 12.45 16.43" stroke-dashoffset="30.94"/><path d="M968.4 340.9 C972.8 343.4 978.3 345.8 982.9 347.9" stroke-dasharray="0.00 16.50 12.50 16.50" stroke-dashoffset="0.00"/><path d="M982.9 347.9 C987.5 350.0 991.5 351.9 996.1 353.7" stroke-dasharray="0.00 16.50 12.50 16.50" stroke-dashoffset="16.11"/><path d="M996.1 353.7 C1000.7 355.4 1004.5 356.5 1010.6 358.4" stroke-dasharray="0.00 16.50 12.50 16.50" stroke-dashoffset="30.53"/><path d="M1010.6 358.4 C1016.8 360.3 1026.4 363.6 1033.0 365.3" stroke-dasharray="0.00 16.50 12.50 16.50" stroke-dashoffset="0.27"/><path d="M1033.0 365.3 C1039.6 367.0 1047.2 368.0 1050.0 368.5" stroke-dasharray="0.00 16.50 12.50 16.50" stroke-dashoffset="23.72"/></g></g><g stroke="#888888" stroke-width="1.6" fill="none"><line x1="70" y1="12.0" x2="70" y2="755.5"/><line x1="69.2" y1="745.2" x2="1047" y2="745.2"/><line x1="60" y1="745.2" x2="70" y2="745.2"/><line x1="60" y1="653.5" x2="70" y2="653.5"/><line x1="60" y1="561.9" x2="70" y2="561.9"/><line x1="60" y1="470.2" x2="70" y2="470.2"/><line x1="60" y1="378.6" x2="70" y2="378.6"/><line x1="60" y1="287.0" x2="70" y2="287.0"/><line x1="60" y1="195.3" x2="70" y2="195.3"/><line x1="60" y1="103.7" x2="70" y2="103.7"/><line x1="60" y1="12.0" x2="70" y2="12.0"/><line x1="224.9" y1="745.2" x2="224.9" y2="755.5"/><line x1="379.8" y1="745.2" x2="379.8" y2="755.5"/><line x1="534.7" y1="745.2" x2="534.7" y2="755.5"/><line x1="689.6" y1="745.2" x2="689.6" y2="755.5"/><line x1="844.5" y1="745.2" x2="844.5" y2="755.5"/><line x1="999.4" y1="745.2" x2="999.4" y2="755.5"/></g><g fill="none"><line x1="663.5" y1="447.2" x2="736.5" y2="447.2" stroke="#4a7ebb" stroke-width="5" stroke-linecap="round"/><line x1="663.1" y1="497.8" x2="737" y2="497.8" stroke="#be4b48" stroke-width="3.75" stroke-linecap="round" stroke-dasharray="8.6 8.1"/><line x1="663.1" y1="548.9" x2="737" y2="548.9" stroke="#98b954" stroke-width="3.75" stroke-linecap="round" stroke-dasharray="13 15.9"/><line x1="663.4" y1="600.3" x2="737" y2="600.3" stroke="#7d60a0" stroke-width="3.9" stroke-linecap="round" stroke-dasharray="0 8.29"/><line x1="663.3" y1="650" x2="737" y2="650" stroke="#46aac5" stroke-width="3.75" stroke-linecap="round" stroke-dasharray="12.5 16.5 0 16.5"/></g>
<g font-family="Liberation Sans, sans-serif" fill="#000">
<text transform="translate(42.90 755.80) scale(0.9700 1.0000)" font-size="31" text-anchor="end">-20</text><text transform="translate(42.90 664.60) scale(0.9700 1.0000)" font-size="31" text-anchor="end">-15</text><text transform="translate(42.90 573.00) scale(0.9700 1.0000)" font-size="31" text-anchor="end">-10</text><text transform="translate(42.90 481.40) scale(0.9700 1.0000)" font-size="31" text-anchor="end">-5</text><text transform="translate(42.90 389.00) scale(0.9700 1.0000)" font-size="31" text-anchor="end">0</text><text transform="translate(42.90 297.90) scale(0.9700 1.0000)" font-size="31" text-anchor="end">5</text><text transform="translate(42.90 206.30) scale(0.9700 1.0000)" font-size="31" text-anchor="end">10</text><text transform="translate(42.90 114.90) scale(0.9700 1.0000)" font-size="31" text-anchor="end">15</text><text transform="translate(42.90 22.30) scale(0.9700 1.0000)" font-size="31" text-anchor="end">20</text><text transform="translate(69.30 793.00) scale(0.9850 1.0000)" font-size="31" text-anchor="middle">237</text><text transform="translate(224.20 793.00) scale(0.9850 1.0000)" font-size="31" text-anchor="middle">247</text><text transform="translate(379.10 793.00) scale(0.9850 1.0000)" font-size="31" text-anchor="middle">257</text><text transform="translate(534.00 793.00) scale(0.9850 1.0000)" font-size="31" text-anchor="middle">267</text><text transform="translate(688.90 793.00) scale(0.9850 1.0000)" font-size="31" text-anchor="middle">277</text><text transform="translate(843.80 793.00) scale(0.9850 1.0000)" font-size="31" text-anchor="middle">287</text><text transform="translate(998.70 793.00) scale(0.9850 1.0000)" font-size="31" text-anchor="middle">297</text><text x="743.90" y="457.80" font-size="31">DNA</text><text transform="translate(744.00 508.90) scale(0.9900 1.0000)" font-size="31">Au/DNA</text><text x="854.2" y="508.90" font-size="31" stroke="#000" stroke-width="0.5">=</text><text transform="translate(886.85 508.90) scale(0.924 1)" x="-8.62" y="0" font-size="31">0</text><text x="894.69" y="508.90" font-size="31">.</text><path transform="translate(902.62 508.90) scale(0.015137 -0.015137)" d="M763 0L583 0L583 1147C540 1106 483 1064 413 1023C343 982 280 951 223 930L223 1104C323 1151 410 1208 485 1275C560 1342 613 1406 644 1466L763 1466Z"/><text transform="translate(744.00 560.10) scale(0.9900 1.0000)" font-size="31">Au/DNA</text><text x="854.2" y="560.10" font-size="31" stroke="#000" stroke-width="0.5">=</text><text transform="translate(886.80 560.10) scale(0.918 1)" x="-8.62" y="0" font-size="31">0</text><text x="894.54" y="560.10" font-size="31">.</text><text transform="translate(911.50 560.10) scale(0.963 1)" x="-8.62" y="0" font-size="31">2</text><text transform="translate(928.25 560.10) scale(0.932 1)" x="-8.59" y="0" font-size="31">5</text><text transform="translate(744.00 610.00) scale(0.9900 1.0000)" font-size="31">Au/DNA</text><text x="854.2" y="610.00" font-size="31" stroke="#000" stroke-width="0.5">=</text><text transform="translate(886.65 610.00) scale(0.898 1)" x="-8.62" y="0" font-size="31">0</text><text x="894.89" y="610.00" font-size="31">.</text><text transform="translate(911.55 610.00) scale(0.919 1)" x="-8.59" y="0" font-size="31">5</text><text transform="translate(744.00 661.20) scale(0.9900 1.0000)" font-size="31">Au/DNA</text><text x="854.2" y="661.20" font-size="31" stroke="#000" stroke-width="0.5">=</text><path transform="translate(877.52 661.20) scale(0.015137 -0.015137)" d="M763 0L583 0L583 1147C540 1106 483 1064 413 1023C343 982 280 951 223 930L223 1104C323 1151 410 1208 485 1275C560 1342 613 1406 644 1466L763 1466Z"/><text x="894.84" y="661.20" font-size="31">.</text><text transform="translate(911.45 661.20) scale(0.965 1)" x="-8.62" y="0" font-size="31">0</text><text x="411.80" y="62.30" font-size="34">[AuCl</text><text x="497.00" y="69.30" font-size="23">2</text><text transform="translate(510.00 62.30) scale(0.9840 1.0000)" font-size="34">(N,NH)] (</text><text x="645.50" y="62.30" font-size="34" font-weight="bold">5</text><text x="663.80" y="62.30" font-size="34">)</text><text transform="translate(0 838.7) scale(1 1.05)" x="420.40 451.59 471.75 491.66 510.54 520.46 538.80 559.36 581.13 601.49 612.49 619.91 631.95 651.97 684.22" y="0" font-size="34" font-weight="bold" stroke="#fff" stroke-width="0.7">Wavelenght (nm)</text>
</g>
</svg>
</body></html>
